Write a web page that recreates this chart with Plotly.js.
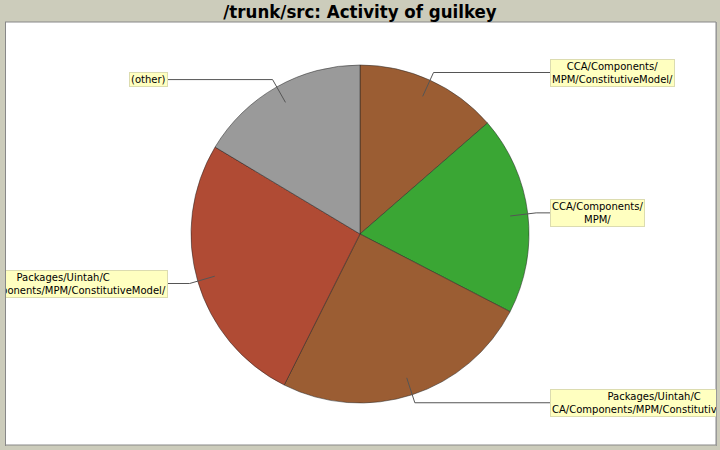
<!DOCTYPE html>
<html>
<head>
<meta charset="utf-8">
<script src="https://cdn.plot.ly/plotly-3.0.1.min.js"></script>
<style>
  html, body { margin: 0; padding: 0; overflow: hidden; background: #ccccbb; }
  #wrap { position: relative; width: 720px; height: 450px; }
  #chart { width: 720px; height: 450px; }
  .edge { position: absolute; background: #ccccbb; z-index: 5; }
</style>
</head>
<body>
<div id="wrap">
  <div id="chart"></div>
  <div class="edge" style="left:0; top:22px; width:5px; height:424px; border-right:1px solid #888;"></div>
  <div class="edge" style="left:716px; top:22px; width:4px; height:424px; border-left:1px solid #999;"></div>
</div>
<script>
// share of activity per directory
const slices = [
  "CCA/Components/MPM/ConstitutiveModel/",
  "CCA/Components/MPM/",
  "Packages/Uintah/CCA/Components/MPM/ConstitutiveModel/",
  "Packages/Uintah/CCA/Components/MPM/ConstitutiveModel/",
  "(other)"
];
const shownText = [
  "CCA/Components/<br>MPM/ConstitutiveModel/",
  "CCA/Components/<br>MPM/",
  "Packages/Uintah/C<br>CA/Components/MPM/ConstitutiveModel/",
  "Packages/Uintah/C<br>CA/Components/MPM/ConstitutiveModel/",
  "(other)"
];
const shares = [13.6, 19.0, 24.8, 26.2, 16.4];
const colors = ["#9b5d33", "#3aa634", "#9b5d33", "#b04b34", "#9a9a9a"];

const W = 720, H = 450;
const CX = 360, CY = 234, R = 169;

// pixel -> paper
const px = x => x / W;
const py = y => 1 - y / H;

const total = shares.reduce((a, b) => a + b, 0);
const shapes = [
  { type: "rect", xref: "paper", yref: "paper", layer: "below",
    x0: px(5), x1: px(716), y0: py(445), y1: py(22),
    fillcolor: "#ffffff", line: { color: "#888888", width: 1 } }
];
const annotations = [];

let acc = 0;
shares.forEach((v, i) => {
  const mid = (acc + v / 2) / total * 2 * Math.PI;
  acc += v;
  const s = Math.sin(mid), c = Math.cos(mid);
  const x1 = CX + 0.895 * R * s, y1 = CY - 0.895 * R * c;
  const x2 = CX + 1.05 * R * s, y2 = CY - 1.05 * R * c;
  const right = s >= 0;
  const x3 = right ? CX + R + 21 : CX - R - 23;
  const lineStyle = { color: "#555555", width: 1 };
  shapes.push({ type: "line", xref: "paper", yref: "paper",
    x0: px(x1), y0: py(y1), x1: px(x2), y1: py(y2), line: lineStyle });
  shapes.push({ type: "line", xref: "paper", yref: "paper",
    x0: px(x2), y0: py(y2), x1: px(x3), y1: py(y2), line: lineStyle });
  annotations.push({
    xref: "paper", yref: "paper", x: px(x3), y: py(y2),
    xanchor: right ? "left" : "right", yanchor: "middle",
    text: shownText[i], showarrow: false, align: "center",
    font: { family: "DejaVu Sans", size: 10, color: "#000000" },
    bgcolor: "#ffffc0", bordercolor: "#dcdcb0", borderwidth: 1, borderpad: 1
  });
});

const data = [{
  type: "pie",
  values: shares,
  hovertext: slices,
  hoverinfo: "text+percent",
  textinfo: "none",
  sort: false,
  direction: "clockwise",
  rotation: 0,
  marker: { colors: colors, line: { color: "#222222", width: 0.5 } },
  domain: { x: [px(CX - R), px(CX + R)], y: [py(CY + R), py(CY - R)] },
  showlegend: false
}];

const layout = {
  width: W, height: H,
  margin: { t: 0, r: 0, l: 0, b: 0 },
  paper_bgcolor: "#ccccbb",
  title: {
    text: "/trunk/src: Activity of guilkey",
    x: 0.5, xanchor: "center", y: 1 - 12 / H, yanchor: "middle", yref: "container",
    font: { family: "DejaVu Sans Condensed", size: 18.5, color: "#000000", weight: "bold" }
  },
  shapes: shapes,
  annotations: annotations
};

Plotly.newPlot("chart", data, layout, { displayModeBar: false, staticPlot: true });
</script>
</body>
</html>
